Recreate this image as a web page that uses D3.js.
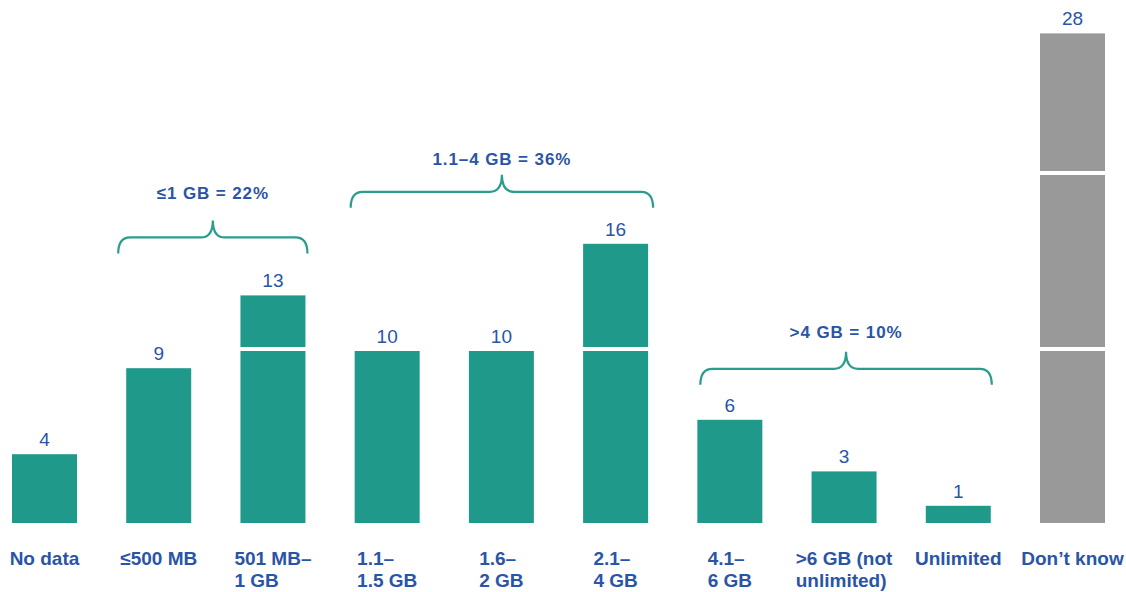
<!DOCTYPE html>
<html>
<head>
<meta charset="utf-8">
<script src="https://cdn.jsdelivr.net/npm/d3@7"></script>
<style>
  html, body { margin: 0; padding: 0; background: #fff; }
  svg { display: block; font-family: "Liberation Sans", Arial, sans-serif; }
</style>
</head>
<body>
<svg id="chart" width="1126" height="592"></svg>
<script>
// Monthly data allowance categories and the number of respondents in each
const categories = [
  "No data", "≤500 MB", "501 MB–\n1 GB", "1.1–\n1.5 GB", "1.6–\n2 GB",
  "2.1–\n4 GB", "4.1–\n6 GB", ">6 GB (not\nunlimited)", "Unlimited", "Don’t know"
];
const values = [4, 9, 13, 10, 10, 16, 6, 3, 1, 28];
const barColors = ["#1f998a", "#1f998a", "#1f998a", "#1f998a", "#1f998a",
                   "#1f998a", "#1f998a", "#1f998a", "#1f998a", "#999999"];

// Grouping braces: first and last category index, and the group summary
const bracketStart = [1, 3, 6];
const bracketEnd = [2, 5, 8];
const bracketLabels = ["≤1 GB = 22%", "1.1–4 GB = 36%", ">4 GB = 10%"];

const TEXT_BLUE = "#2a55a6";
const BRACE_COLOR = "#2a9d8c";
const SEG = 10;      // each bar is split into blocks of 10
const SEG_GAP = 4;   // white gap between blocks

const svg = d3.select("#chart");

const x = d3.scaleBand()
  .domain(d3.range(categories.length))
  .range([12, 1105])
  .paddingInner(0.431)
  .paddingOuter(0);

const y = d3.scaleLinear()
  .domain([0, 28])
  .range([523, 523 - 28 * 17.2]);

// top of a bar including the gaps between its blocks
const barTop = v => y(v) - Math.floor((v - 0.0001) / SEG) * SEG_GAP;

// split every value into blocks of 10
const segments = [];
values.forEach((v, i) => {
  for (let k = 0; k * SEG < v; k++) {
    segments.push({ i, k, lo: k * SEG, hi: Math.min(v, (k + 1) * SEG) });
  }
});

svg.append("g")
  .selectAll("rect")
  .data(segments)
  .join("rect")
  .attr("x", d => x(d.i))
  .attr("width", x.bandwidth())
  .attr("y", d => y(d.hi) - d.k * SEG_GAP)
  .attr("height", d => y(d.lo) - y(d.hi))
  .attr("fill", d => barColors[d.i]);

// value labels
svg.append("g")
  .selectAll("text")
  .data(values)
  .join("text")
  .attr("x", (d, i) => x(i) + x.bandwidth() / 2)
  .attr("y", d => barTop(d) - 8)
  .attr("text-anchor", "middle")
  .attr("font-size", 19)
  .attr("fill", TEXT_BLUE)
  .text(d => d);

// category labels: block centred under the bar, lines left-aligned
const catG = svg.append("g");
categories.forEach((c, i) => {
  const lines = c.split("\n");
  const t = catG.append("text")
    .attr("font-size", 19)
    .attr("font-weight", "bold")
    .attr("fill", TEXT_BLUE);
  lines.forEach((ln, j) => {
    t.append("tspan").attr("x", 0).attr("y", 565 + j * 22).text(ln);
  });
  const w = d3.max(t.selectAll("tspan").nodes(), n => n.getComputedTextLength());
  const left = x(i) + x.bandwidth() / 2 - w / 2;
  t.selectAll("tspan").attr("x", left);
});

// curly braces over groups of bars
const braceInsetL = [-8, -4, 3];   // brace end offsets from the outer bar edges
const braceInsetR = [2, 5, 1];
const braceRise = [42, 36, 35];    // distance from tallest bar top to brace ends
const braceLabelGap = [21, 10, 14];
const BRACE_H = 33, BRACE_MID = 16, R = 12;

bracketLabels.forEach((lab, b) => {
  const s = bracketStart[b], e = bracketEnd[b];
  const x0 = x(s) + braceInsetL[b];
  const x1 = x(e) + x.bandwidth() + braceInsetR[b];
  const xc = (x0 + x1) / 2;
  const tallest = d3.max(values.slice(s, e + 1));
  const yb = barTop(tallest) - braceRise[b];
  const yh = yb - BRACE_MID;
  const yt = yb - BRACE_H;
  const p = d3.path();
  p.moveTo(x0, yb);
  p.quadraticCurveTo(x0, yh, x0 + R, yh);
  p.lineTo(xc - R, yh);
  p.quadraticCurveTo(xc, yh, xc, yt);
  p.quadraticCurveTo(xc, yh, xc + R, yh);
  p.lineTo(x1 - R, yh);
  p.quadraticCurveTo(x1, yh, x1, yb);
  svg.append("path")
    .attr("d", p.toString())
    .attr("fill", "none")
    .attr("stroke", BRACE_COLOR)
    .attr("stroke-width", 2.2);
  svg.append("text")
    .attr("x", xc)
    .attr("y", yt - braceLabelGap[b])
    .attr("text-anchor", "middle")
    .attr("font-size", 17)
    .attr("font-weight", "bold")
    .attr("letter-spacing", 0.9)
    .attr("fill", TEXT_BLUE)
    .text(lab);
});
</script>
</body>
</html>
